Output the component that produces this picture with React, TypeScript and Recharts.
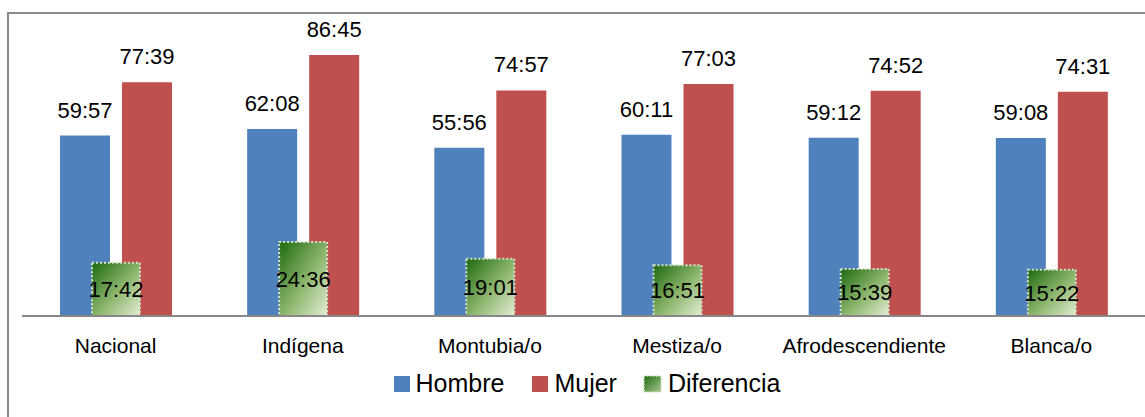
import { BarChart, Bar, XAxis, YAxis, LabelList, Legend } from 'recharts';

const grupos = ['Nacional', 'Indígena', 'Montubia/o', 'Mestiza/o', 'Afrodescendiente', 'Blanca/o'];
const hombre = ['59:57', '62:08', '55:56', '60:11', '59:12', '59:08'];
const mujer = ['77:39', '86:45', '74:57', '77:03', '74:52', '74:31'];
const diferencia = ['17:42', '24:36', '19:01', '16:51', '15:39', '15:22'];

const FONT = '"Liberation Sans", Arial, sans-serif';
const AZUL = '#4f81bd';
const ROJO = '#c0504d';

// hh:mm -> horas decimales
const toHours = (t: string) => {
  const [h, m] = t.split(':').map(Number);
  return h + m / 60;
};

const data = grupos.map((g, i) => ({
  grupo: g,
  hombre: toHours(hombre[i]),
  mujer: toHours(mujer[i]),
  diferencia: toHours(diferencia[i]),
  hombreLbl: hombre[i],
  mujerLbl: mujer[i],
  diferenciaLbl: diferencia[i],
}));

function LegendContent() {
  const item = (icon: React.ReactNode, name: string, gap: number) => (
    <div style={{ display: 'flex', alignItems: 'center', marginRight: gap }}>
      {icon}
      <span style={{ marginLeft: 6 }}>{name}</span>
    </div>
  );
  return (
    <div style={{ display: 'flex', justifyContent: 'center', alignItems: 'center', fontFamily: FONT, fontSize: 25, color: '#000', paddingLeft: 7 }}>
      {item(<div style={{ width: 16, height: 16, background: AZUL }} />, 'Hombre', 28)}
      {item(<div style={{ width: 16, height: 16, background: ROJO }} />, 'Mujer', 26)}
      {item(
        <svg width={19} height={18}>
          <defs>
            <linearGradient id="gradLeg" x1="0" y1="0" x2="1" y2="1">
              <stop offset="0%" stopColor="#1f6b12" />
              <stop offset="100%" stopColor="#a9c98f" />
            </linearGradient>
          </defs>
          <rect x={1} y={1} width={17} height={16} fill="url(#gradLeg)" stroke="#cfe0c2" strokeWidth={1.5} strokeDasharray="1.5 1.5" />
        </svg>,
        'Diferencia',
        0
      )}
    </div>
  );
}

export default function App() {
  return (
    <div style={{ position: 'absolute', left: 0, top: 0, width: 1145, height: 417, background: '#fff' }}>
      <div style={{ position: 'absolute', left: 7, top: 12, right: 0, bottom: 0, borderLeft: '2px solid #8a8a8a', borderTop: '2px solid #8a8a8a' }} />
      <div style={{ position: 'absolute', left: 0, top: 0 }}>
        <BarChart width={1145} height={417} data={data} margin={{ top: 15, right: 0, left: 22, bottom: 71 }} barGap={12}>
          <defs>
            <linearGradient id="gradDif" x1="0" y1="0" x2="1" y2="1">
              <stop offset="0%" stopColor="#1c6a10" />
              <stop offset="55%" stopColor="#8fb76f" />
              <stop offset="100%" stopColor="#e2edd6" />
            </linearGradient>
          </defs>
          <YAxis hide domain={[0, 100]} />
          <XAxis
            dataKey="grupo"
            height={30}
            axisLine={{ stroke: '#878787', strokeWidth: 2 }}
            tickLine={false}
            tickSize={0}
            tickMargin={22}
            tick={{ fontFamily: FONT, fontSize: 21, fill: '#000' }}
            interval={0}
          />
          <XAxis xAxisId="dif" dataKey="grupo" hide />
          <Bar dataKey="hombre" name="Hombre" fill={AZUL} barSize={50} isAnimationActive={false}>
            <LabelList dataKey="hombreLbl" position="top" offset={18} style={{ fontFamily: FONT, fontSize: 22, fill: '#000' }} />
          </Bar>
          <Bar dataKey="mujer" name="Mujer" fill={ROJO} barSize={50} isAnimationActive={false}>
            <LabelList dataKey="mujerLbl" position="top" offset={18} style={{ fontFamily: FONT, fontSize: 22, fill: '#000' }} />
          </Bar>
          <Bar
            dataKey="diferencia"
            name="Diferencia"
            xAxisId="dif"
            fill="url(#gradDif)"
            stroke="#d4e3c8"
            strokeWidth={2}
            strokeDasharray="2 2"
            barSize={48}
            isAnimationActive={false}
          >
            <LabelList dataKey="diferenciaLbl" position="center" style={{ fontFamily: FONT, fontSize: 22, fill: '#000' }} />
          </Bar>
          <Legend verticalAlign="middle" layout="horizontal" content={<LegendContent />} wrapperStyle={{ top: 369 }} />
        </BarChart>
      </div>
    </div>
  );
}
